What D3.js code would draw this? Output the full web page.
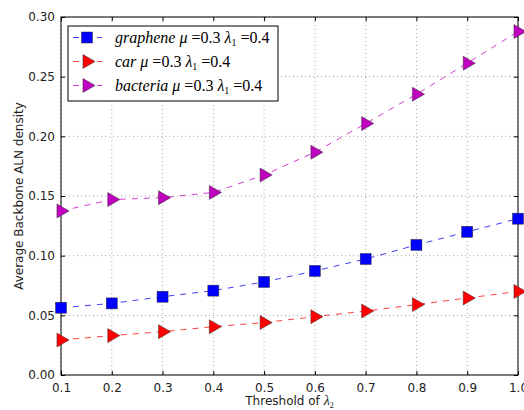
<!DOCTYPE html>
<html>
<head>
  <meta charset="UTF-8">
  <title>Average Backbone ALN density</title>
  <script src="https://d3js.org/d3.v7.min.js"></script>
  <style>
    body { margin: 0; background: #fff; }
    text { font-family: "DejaVu Sans", sans-serif; }
  </style>
</head>
<body>
  <div id="chart"></div>
  <script>
    // threshold of lambda_2
    const thresholds = [0.1, 0.2, 0.3, 0.4, 0.5, 0.6, 0.7, 0.8, 0.9, 1.0];
    const graphene = [0.0564, 0.060, 0.0656, 0.0707, 0.078, 0.0872, 0.0972, 0.109, 0.120, 0.131];
    const car = [0.0293, 0.033, 0.0363, 0.0405, 0.0439, 0.0489, 0.0536, 0.059, 0.0645, 0.070];
    const bacteria = [0.1375, 0.147, 0.1486, 0.153, 0.1676, 0.1867, 0.2107, 0.2353, 0.2613, 0.2878];
    const seriesNames = ["graphene", "car", "bacteria"];
    const yTicks = [0.00, 0.05, 0.10, 0.15, 0.20, 0.25, 0.30];

    const series = [
      { name: seriesNames[0], values: graphene, color: "#0000ff", marker: "square" },
      { name: seriesNames[1], values: car, color: "#ff0000", marker: "tri" },
      { name: seriesNames[2], values: bacteria, color: "#bf00bf", marker: "tri" }
    ];

    const margin = { top: 17, right: 6, bottom: 35, left: 61 };
    const W = 524, H = 410;
    const width = W - margin.left - margin.right;
    const height = H - margin.top - margin.bottom;

    const svg = d3.select("#chart").append("svg")
      .attr("width", W).attr("height", H);
    const g = svg.append("g")
      .attr("transform", "translate(" + margin.left + "," + margin.top + ")");

    const x = d3.scaleLinear().domain([0.1, 1.0]).range([0, width]);
    const y = d3.scaleLinear().domain([0, 0.30]).range([height, 0]);

    // grid
    g.append("g").selectAll("line").data(thresholds).join("line")
      .attr("x1", d => x(d)).attr("x2", d => x(d))
      .attr("y1", 0).attr("y2", height)
      .attr("stroke", "#000").attr("stroke-opacity", 0.45)
      .attr("stroke-dasharray", "1,3").attr("stroke-width", 0.8);
    g.append("g").selectAll("line").data(yTicks).join("line")
      .attr("x1", 0).attr("x2", width)
      .attr("y1", d => y(d)).attr("y2", d => y(d))
      .attr("stroke", "#000").attr("stroke-opacity", 0.45)
      .attr("stroke-dasharray", "1,3").attr("stroke-width", 0.8);

    // axes, ticks inside
    g.append("g").attr("transform", "translate(0," + height + ")")
      .call(d3.axisBottom(x).tickValues(thresholds).tickFormat(d3.format(".1f"))
        .tickSizeInner(-4).tickSizeOuter(0).tickPadding(8));
    g.append("g")
      .call(d3.axisLeft(y).tickValues(yTicks).tickFormat(d3.format(".2f"))
        .tickSizeInner(-4).tickSizeOuter(0).tickPadding(6));
    g.append("g").call(d3.axisTop(x).tickValues(thresholds).tickFormat("")
        .tickSizeInner(-4).tickSizeOuter(0));
    g.append("g").attr("transform", "translate(" + width + ",0)")
      .call(d3.axisRight(y).tickValues(yTicks).tickFormat("")
        .tickSizeInner(-4).tickSizeOuter(0));
    g.selectAll(".domain").remove();
    g.selectAll(".tick text").style("font-size", "12px").attr("fill", "#222");
    g.selectAll(".tick line").attr("stroke", "#000");

    g.append("rect").attr("width", width).attr("height", height)
      .attr("fill", "none").attr("stroke", "#000").attr("stroke-width", 1);

    // lines and markers
    const line = d3.line().x((d, i) => x(thresholds[i])).y(d => y(d));
    const tri = d3.symbol().type(d3.symbolTriangle).size(85);

    function drawMarker(sel, s) {
      if (s.marker === "square") {
        sel.append("rect").attr("x", -5.5).attr("y", -5.5).attr("width", 11).attr("height", 11)
          .attr("fill", s.color).attr("stroke", "#333").attr("stroke-width", 0.5);
      } else {
        sel.append("path").attr("d", tri()).attr("transform", "rotate(90)")
          .attr("fill", s.color).attr("stroke", "#333").attr("stroke-width", 0.5);
      }
    }

    series.forEach(s => {
      g.append("path").datum(s.values)
        .attr("d", line).attr("fill", "none")
        .attr("stroke", s.color).attr("stroke-opacity", 0.75)
        .attr("stroke-width", 1).attr("stroke-dasharray", "6,6");
      g.append("g").selectAll("g").data(s.values).join("g")
        .attr("transform", (d, i) => "translate(" + x(thresholds[i]) + "," + y(d) + ")")
        .each(function () { drawMarker(d3.select(this), s); });
    });

    // legend
    const lg = svg.append("g").attr("transform", "translate(68,26)");
    lg.append("rect").attr("width", 210).attr("height", 75)
      .attr("fill", "#fff").attr("stroke", "#000").attr("stroke-width", 1);
    series.forEach((s, i) => {
      const ry = 11.5 + i * 24;
      const row = lg.append("g").attr("transform", "translate(0," + ry + ")");
      row.append("line").attr("x1", 5).attr("x2", 34).attr("y1", 0).attr("y2", 0)
        .attr("stroke", s.color).attr("stroke-opacity", 0.75).attr("stroke-dasharray", "6,6");
      drawMarker(row.append("g").attr("transform", "translate(19,0)"), s);
      const t = row.append("text").attr("x", 47).attr("y", 5)
        .style("font-family", "'Liberation Serif', serif").style("font-size", "16px");
      t.append("tspan").style("font-style", "italic").text(s.name + " ");
      t.append("tspan").style("font-style", "italic").text("μ");
      t.append("tspan").text(" =0.3 ");
      t.append("tspan").style("font-style", "italic").text("λ");
      t.append("tspan").attr("dy", 3).style("font-size", "10px").text("1");
      t.append("tspan").attr("dy", -3).text(" =0.4");
    });

    // axis labels
    const xl = svg.append("text").attr("x", margin.left + width / 2).attr("y", 405)
      .attr("text-anchor", "middle").style("font-size", "12px").attr("fill", "#222");
    xl.append("tspan").text("Threshold of ");
    xl.append("tspan").style("font-family", "'Liberation Serif', serif").style("font-style", "italic")
      .style("font-size", "14px").text("λ");
    xl.append("tspan").attr("dy", 3).style("font-size", "8px").style("font-family", "'Liberation Serif', serif").text("2");

    svg.append("text")
      .attr("transform", "translate(23," + (margin.top + height / 2) + ") rotate(-90)")
      .attr("text-anchor", "middle").style("font-size", "12px").attr("fill", "#222")
      .text("Average Backbone ALN density");
  </script>
</body>
</html>
